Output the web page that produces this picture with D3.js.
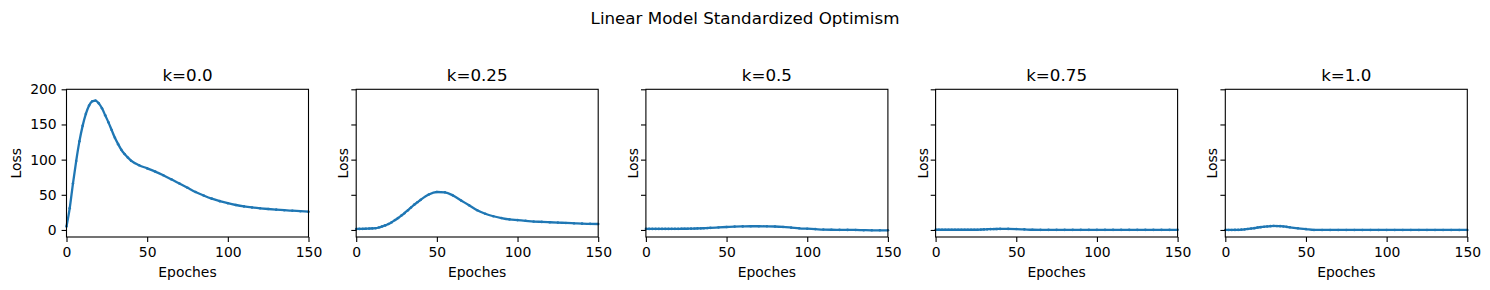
<!DOCTYPE html>
<html>
<head>
<meta charset="utf-8">
<script src="https://cdn.jsdelivr.net/npm/d3@7"></script>
<style>
  body { margin: 0; background: #fff; }
  text { font-family: "DejaVu Sans", sans-serif; fill: #000; }
</style>
</head>
<body>
<script>
// epochs shared by every panel
var epochs = [0, 2, 4, 6, 8, 10, 12, 14, 16, 18, 20, 22, 24, 26, 28, 30, 32, 34, 36, 38, 40,
  45, 50, 55, 60, 65, 70, 75, 80, 85, 90, 95, 100, 105, 110, 115, 120, 125, 130, 135, 140, 145, 150];

var panelTitles = ["k=0.0", "k=0.25", "k=0.5", "k=0.75", "k=1.0"];

var lossK000 = [5, 31, 66, 98, 126, 148, 165, 177, 183, 184, 180, 173, 163, 153, 142, 131, 122, 114, 108, 103, 98.5,
  92, 87.6, 83, 77.8, 72, 66, 60, 54, 49, 44.5, 41, 38, 35.5, 33.5, 32, 30.8, 29.8, 28.9, 28.1, 27.4, 26.7, 26];
var lossK025 = [1.4, 1.5, 1.6, 1.8, 2, 2.2, 2.5, 3.5, 5, 6.5, 8.5, 11, 14, 17, 20.5, 24, 28, 32, 36, 39.5, 43,
  50.5, 54, 53.5, 49, 42, 35, 28, 23, 19.5, 17, 15, 14, 13, 12, 11.5, 11, 10.5, 10, 9.5, 9, 8.7, 8.5];
var lossK050 = [1.5, 1.5, 1.5, 1.5, 1.5, 1.5, 1.5, 1.5, 1.6, 1.6, 1.6, 1.7, 1.7, 1.8, 1.9, 2, 2.2, 2.3, 2.5, 2.7, 3,
  3.6, 4.2, 4.8, 5.1, 5.3, 5.3, 5.2, 4.9, 4.3, 3.4, 2.4, 1.8, 1.2, 0.6, 0.3, 0.2, 0.1, 0, -0.3, -0.5, -0.5, -0.5];
var lossK075 = [0.3, 0.3, 0.3, 0.3, 0.3, 0.3, 0.3, 0.3, 0.3, 0.3, 0.3, 0.3, 0.3, 0.3, 0.5, 0.8, 1, 1.2, 1.3, 1.4, 1.5,
  1.5, 1.3, 0.8, 0.3, 0.2, 0.2, 0.2, 0.2, 0.2, 0.2, 0.2, 0.2, 0.2, 0.2, 0.2, 0.2, 0.2, 0.2, 0.2, 0.2, 0.2, 0.2];
var lossK100 = [0, 0, 0, 0.1, 0.2, 0.5, 0.9, 1.4, 2, 2.6, 3.5, 4, 4.5, 5, 5.4, 5.7, 5.6, 5.4, 5, 4.4, 3.8,
  2.4, 1.2, 0, 0, 0, 0, 0, 0, 0, 0, 0, 0, 0, 0, 0, 0, 0, 0, 0, 0, 0, 0];

var series = [lossK000, lossK025, lossK050, lossK075, lossK100];

var xTicks = [0, 50, 100, 150];
var yTicks = [0, 50, 100, 150, 200];

var width = 1490, height = 290;
var svg = d3.select("body").append("svg").attr("width", width).attr("height", height);

var plotW = 242, plotTop = 89.3, plotBottom = 237;
var left0 = 66.5, step = 289.7;

var x = d3.scaleLinear().domain([0, 150]).range([0, plotW]);
var y = d3.scaleLinear().domain([-10, 200]).range([plotBottom, plotTop]);

svg.append("text")
  .attr("x", 745).attr("y", 24)
  .attr("text-anchor", "middle")
  .attr("font-size", "16.7px")
  .text("Linear Model Standardized Optimism");

series.forEach(function(vals, i) {
  var g = svg.append("g").attr("transform", "translate(" + (left0 + i * step) + ",0)");

  var line = d3.line()
    .x(function(d, j) { return x(epochs[j]); })
    .y(function(d) { return y(d); })
    .curve(d3.curveMonotoneX);

  g.append("path")
    .datum(vals)
    .attr("fill", "none")
    .attr("stroke", "#1f77b4")
    .attr("stroke-width", 2.3)
    .attr("d", line);

  g.selectAll(".dot")
    .data(vals)
    .enter()
    .append("circle")
    .attr("cx", function(d, j) { return x(epochs[j]); })
    .attr("cy", function(d) { return y(d); })
    .attr("r", 1.3)
    .attr("fill", "#1f77b4");

  var xAxis = g.append("g")
    .attr("transform", "translate(0," + plotBottom + ")")
    .call(d3.axisBottom(x).tickValues(xTicks).tickSize(4.9).tickPadding(4.9).tickFormat(d3.format("d")));

  var yAxis = g.append("g")
    .call(d3.axisLeft(y).tickValues(yTicks).tickSize(4.9).tickPadding(4.9)
      .tickFormat(i == 0 ? d3.format("d") : function() { return ""; }));

  [xAxis, yAxis].forEach(function(a) {
    a.select(".domain").remove();
    a.selectAll("line").attr("stroke", "#000").attr("stroke-width", 1.1);
    a.selectAll("text").attr("font-size", "13.9px").attr("font-family", "DejaVu Sans").attr("fill", "#000");
  });

  // frame
  g.append("rect")
    .attr("x", 0).attr("y", plotTop)
    .attr("width", plotW).attr("height", plotBottom - plotTop)
    .attr("fill", "none").attr("stroke", "#000").attr("stroke-width", 1.1);

  g.append("text")
    .attr("x", plotW / 2).attr("y", 81)
    .attr("text-anchor", "middle")
    .attr("font-size", "16.7px")
    .text(panelTitles[i]);

  g.append("text")
    .attr("x", plotW / 2).attr("y", 277)
    .attr("text-anchor", "middle")
    .attr("font-size", "13.9px")
    .text("Epoches");

  var lx = i == 0 ? -46 : -8;
  g.append("text")
    .attr("transform", "translate(" + lx + "," + ((plotTop + plotBottom) / 2) + ") rotate(-90)")
    .attr("text-anchor", "middle")
    .attr("font-size", "13.9px")
    .text("Loss");
});
</script>
</body>
</html>
